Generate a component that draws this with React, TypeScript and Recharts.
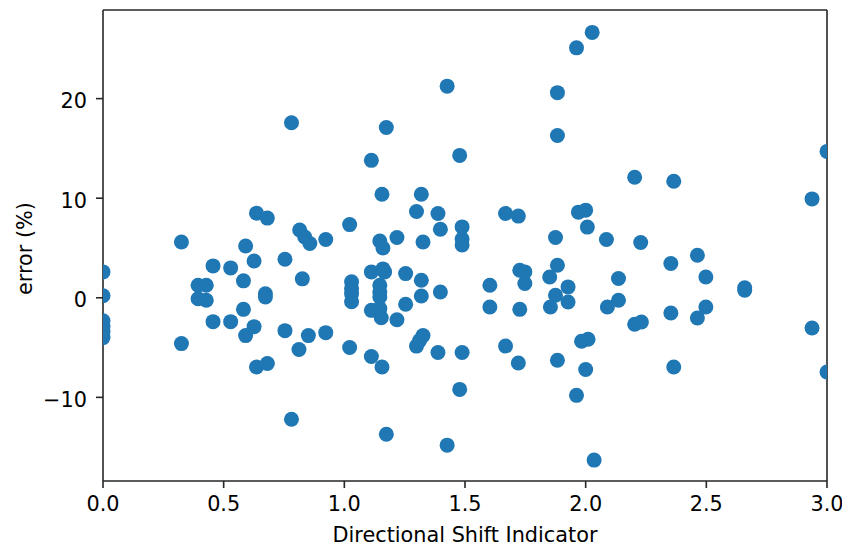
import React from 'react';
import {
  ScatterChart,
  Scatter,
  XAxis,
  YAxis,
  ReferenceLine,
} from 'recharts';

// shift indicator (x) and error in % (y)
const shiftValues = [
  0, 0, 0, 0, 0, 0,
  0.325, 0.325, 0.394, 0.394, 0.428, 0.428, 0.456, 0.456, 0.529, 0.529,
  0.582, 0.582, 0.591, 0.591, 0.626, 0.626, 0.636, 0.636, 0.673, 0.673,
  0.681, 0.681, 0.754, 0.754, 0.781, 0.781, 0.812, 0.815, 0.826, 0.836,
  0.851, 0.857, 0.923, 0.923,
  1.022, 1.022, 1.03, 1.03, 1.03, 1.03, 1.112, 1.112, 1.112, 1.112,
  1.147, 1.147, 1.147, 1.147, 1.147, 1.153, 1.156, 1.156, 1.16, 1.16,
  1.167, 1.174, 1.174, 1.218, 1.218, 1.254, 1.254, 1.299, 1.299, 1.312,
  1.319, 1.319, 1.319, 1.326, 1.326, 1.388, 1.388, 1.398, 1.398, 1.426,
  1.426, 1.478, 1.478, 1.488, 1.488, 1.488, 1.488,
  1.603, 1.603, 1.668, 1.668, 1.721, 1.721, 1.727, 1.727, 1.748, 1.748,
  1.851, 1.854, 1.875, 1.875, 1.883, 1.883, 1.883, 1.883, 1.927, 1.927,
  1.962, 1.962, 1.97, 1.983, 2.0, 2.0, 2.007, 2.01, 2.027, 2.035,
  2.086, 2.09, 2.136, 2.136, 2.203, 2.203, 2.228, 2.231, 2.353, 2.353,
  2.365, 2.365, 2.463, 2.463, 2.498, 2.498, 2.659, 2.659, 2.938, 2.938,
  3.0, 3.0,
];

const errorValues = [
  2.6, 0.2, -2.3, -2.9, -3.4, -4.0,
  5.6, -4.6, 1.26, -0.1, 1.26, -0.25, 3.2, -2.4, 3.0, -2.4,
  1.7, -1.16, 5.2, -3.8, 3.7, -2.9, 8.5, -6.95, 0.4, 0.08,
  8.0, -6.6, 3.87, -3.3, 17.57, -12.2, -5.2, 6.8, 1.9, 6.1,
  -3.8, 5.45, 5.85, -3.5,
  7.35, -5.0, 1.6, 0.9, 0.4, -0.4, 13.8, 2.6, -1.26, -5.9,
  5.7, 1.26, 0.58, 0.08, -1.09, -2.0, 10.4, -6.95, 5.0, 2.9,
  2.6, 17.1, -13.7, 6.05, -2.2, 2.43, -0.65, 8.66, -4.85, -4.3,
  10.4, 1.76, 0.18, 5.6, -3.8, 8.46, -5.5, 6.88, 0.58, 21.25,
  -14.8, 14.3, -9.2, 7.12, 5.9, 5.3, -5.5,
  1.26, -0.92, 8.46, -4.85, 8.2, -6.55, 2.76, -1.16, 2.6, 1.43,
  2.09, -0.92, 6.05, 0.25, 20.6, 16.3, 3.27, -6.28, 1.09, -0.42,
  25.1, -9.8, 8.6, -4.37, 8.8, -7.2, 7.1, -4.17, 26.65, -16.3,
  5.85, -0.92, 1.93, -0.25, 12.1, -2.66, 5.55, -2.43, 3.44, -1.53,
  11.7, -6.95, 4.27, -2.03, 2.09, -0.92, 1.0, 0.75, 9.93, -3.03,
  14.7, -7.45,
];

const xTicks = [0, 0.5, 1, 1.5, 2, 2.5, 3];
const yTicks = [-10, 0, 10, 20];
const X_DOMAIN: [number, number] = [0, 3];
const Y_DOMAIN: [number, number] = [-18.4, 28.9];

const DOT_COLOR = '#1f77b4';
const AXIS_COLOR = '#262626';
const FONT = '"DejaVu Sans", sans-serif';

const points = shiftValues.map((x, i) => ({ x, y: errorValues[i] }));

const Dot = (props: any) => (
  <circle cx={props.cx} cy={props.cy} r={7.5} fill={DOT_COLOR} />
);

export default function App() {
  return (
    <div style={{ position: 'absolute', left: 0, top: 0, width: 842, height: 546, background: '#fff' }}>
      <ScatterChart
        width={842}
        height={546}
        margin={{ top: 10, right: 15, bottom: 0, left: 0 }}
        style={{ fontFamily: FONT }}
      >
        <XAxis
          type="number"
          dataKey="x"
          domain={X_DOMAIN}
          ticks={xTicks}
          allowDataOverflow
          height={65}
          tickSize={7}
          tickMargin={8}
          tickFormatter={(v: number) => v.toFixed(1)}
          tick={{ fontSize: 20.8, fill: '#000', fontFamily: FONT }}
          axisLine={{ stroke: AXIS_COLOR, strokeWidth: 1.6 }}
          tickLine={{ stroke: AXIS_COLOR, strokeWidth: 1.6 }}
          label={(p: any) => {
            const vb = p.viewBox;
            return (
              <text
                x={vb.x + vb.width / 2}
                y={vb.y + vb.height - 4}
                textAnchor="middle"
                fontSize={20.8}
                fontFamily={FONT}
                fill="#000"
              >
                Directional Shift Indicator
              </text>
            );
          }}
        />
        <YAxis
          type="number"
          dataKey="y"
          domain={Y_DOMAIN}
          ticks={yTicks}
          allowDataOverflow
          width={103}
          tickSize={7}
          tickMargin={9}
          tickFormatter={(v: number) => (v < 0 ? `\u2212${Math.abs(v)}` : `${v}`)}
          tick={{ fontSize: 20.8, fill: '#000', fontFamily: FONT, dy: 2 }}
          axisLine={{ stroke: AXIS_COLOR, strokeWidth: 1.6 }}
          tickLine={{ stroke: AXIS_COLOR, strokeWidth: 1.6 }}
          label={(p: any) => {
            const vb = p.viewBox;
            const cx = vb.x + 25;
            const cy = vb.y + vb.height / 2 + 3;
            return (
              <text
                x={cx}
                y={cy}
                transform={`rotate(-90 ${cx} ${cy})`}
                textAnchor="middle"
                dominantBaseline="central"
                fontSize={20.8}
                fontFamily={FONT}
                fill="#000"
              >
                error (%)
              </text>
            );
          }}
        />
        <Scatter data={points} shape={Dot} isAnimationActive={false} />
        {/* top and right spines */}
        <ReferenceLine y={Y_DOMAIN[1]} stroke={AXIS_COLOR} strokeWidth={1.6} />
        <ReferenceLine x={X_DOMAIN[1]} stroke={AXIS_COLOR} strokeWidth={1.6} />
      </ScatterChart>
    </div>
  );
}
